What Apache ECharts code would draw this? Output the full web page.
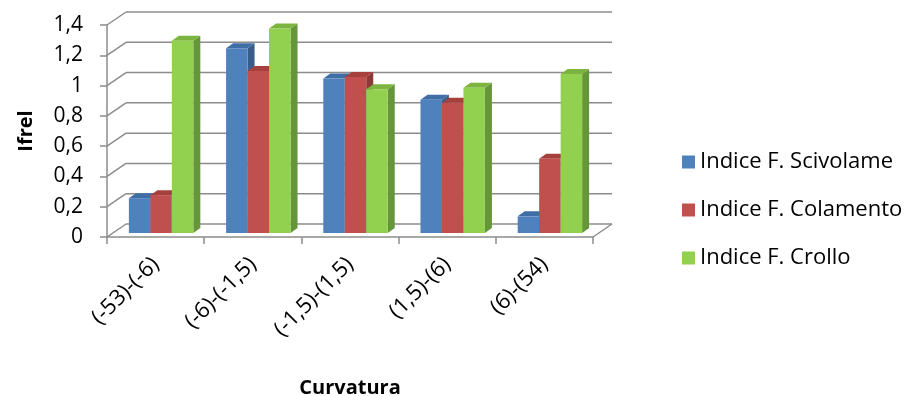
<!DOCTYPE html>
<html>
<head>
<meta charset="utf-8">
<script src="https://cdn.jsdelivr.net/npm/echarts@6/dist/echarts.min.js"></script>
<style>
  html, body { margin: 0; padding: 0; background: #ffffff; }
  #chart { width: 916px; height: 396px; }
</style>
</head>
<body>
<div id="chart"></div>
<script>
// Curvature classes on the horizontal axis
const categories = ['(-53)-(-6)', '(-6)-(-1,5)', '(-1,5)-(1,5)', '(1,5)-(6)', '(6)-(54)'];

// Relative frequency index per curvature class
const scivolamento = [0.23, 1.22, 1.02, 0.88, 0.11];
const colamento    = [0.25, 1.07, 1.03, 0.86, 0.49];
const crollo       = [1.27, 1.35, 0.95, 0.96, 1.05];

const seriesNames = ['Indice F. Scivolame', 'Indice F. Colamento', 'Indice F. Crollo'];

// Value axis ticks
const yTicks = [0, 0.2, 0.4, 0.6, 0.8, 1.0, 1.2, 1.4];

const FONT = '"Open Sans", "Noto Sans", sans-serif';
const GRID_COLOR = '#8c8c8c';

// Pseudo-3D geometry (pixels)
const WALL_DX = 19, WALL_DY = -13;     // depth of the back wall
const BAR_SHIFT_X = 5.5, BAR_SHIFT_Y = -4; // bars sit a little behind the front plane
const BAR_DX = 7, BAR_DY = -5;         // thickness of each column
const BAR_FRACTION = 0.221;            // bar width relative to category width

const palettes = [
  { front: '#4F81BD', top: '#3F6DA5', side: '#385D8A' },
  { front: '#C0504D', top: '#A6403D', side: '#8C3836' },
  { front: '#92D050', top: '#7DB43F', side: '#66963A' }
];

// Back wall gridlines, left-wall diagonals and the floor's right edge
function renderWall(params, api) {
  const cs = params.coordSys;
  const v = api.value(1);
  const y = api.coord([0, v])[1];
  const left = cs.x, right = cs.x + cs.width;
  const style = { stroke: GRID_COLOR, lineWidth: 1.5 };
  const children = [
    { type: 'line', shape: { x1: left, y1: y, x2: left + WALL_DX, y2: y + WALL_DY }, style },
    { type: 'line', shape: { x1: left + WALL_DX, y1: y + WALL_DY, x2: right + WALL_DX, y2: y + WALL_DY }, style }
  ];
  if (v === 0) {
    children.push({ type: 'line', shape: { x1: right, y1: y, x2: right + WALL_DX, y2: y + WALL_DY }, style });
  }
  return { type: 'group', children };
}

function makeBarRenderer(seriesIdx) {
  const pal = palettes[seriesIdx];
  return function (params, api) {
    const idx = api.value(0);
    const val = api.value(1);
    const base = api.coord([idx, 0]);
    const topPt = api.coord([idx, val]);
    const catW = api.size([1, 0])[0];
    const bw = catW * BAR_FRACTION;
    const l = base[0] - 1.5 * bw + seriesIdx * bw + BAR_SHIFT_X;
    const r = l + bw;
    const b = base[1] + BAR_SHIFT_Y;
    const t = topPt[1] + BAR_SHIFT_Y;
    return {
      type: 'group',
      children: [
        { type: 'polygon', shape: { points: [[r, t], [r + BAR_DX, t + BAR_DY], [r + BAR_DX, b + BAR_DY], [r, b]] },
          style: { fill: pal.side } },
        { type: 'polygon', shape: { points: [[l, t], [l + BAR_DX, t + BAR_DY], [r + BAR_DX, t + BAR_DY], [r, t]] },
          style: { fill: pal.top } },
        { type: 'rect', shape: { x: l, y: t, width: bw, height: b - t }, style: { fill: pal.front } }
      ]
    };
  };
}

const chart = echarts.init(document.getElementById('chart'), null, { renderer: 'canvas' });

const barData = [scivolamento, colamento, crollo];

chart.setOption({
  backgroundColor: '#ffffff',
  animation: false,
  grid: { left: 107, top: 25, right: 323, bottom: 159, containLabel: false, outerBoundsMode: 'none' },
  legend: {
    orient: 'vertical',
    left: 677,
    top: 146,
    icon: 'rect',
    itemWidth: 13,
    itemHeight: 13,
    itemGap: 26,
    data: seriesNames,
    textStyle: { fontFamily: FONT, fontSize: 22, color: '#000', lineHeight: 22 }
  },
  xAxis: {
    type: 'category',
    data: categories,
    boundaryGap: true,
    name: 'Curvatura',
    nameLocation: 'middle',
    nameGap: 141,
    nameTextStyle: { fontFamily: FONT, fontSize: 20, fontWeight: 'bold', color: '#000' },
    axisLine: { show: true, lineStyle: { color: GRID_COLOR, width: 1.5 } },
    axisTick: { show: true, length: 7, lineStyle: { color: GRID_COLOR, width: 1.5 } },
    axisLabel: { rotate: 45, margin: 24, fontFamily: FONT, fontSize: 22, color: '#000', interval: 0 }
  },
  yAxis: {
    type: 'value',
    min: 0,
    max: 1.4,
    interval: 0.2,
    name: 'Ifrel',
    nameLocation: 'middle',
    nameGap: 71,
    nameTextStyle: { fontFamily: FONT, fontSize: 20, fontWeight: 'bold', color: '#000' },
    axisLine: { show: true, lineStyle: { color: GRID_COLOR, width: 1.5 } },
    axisTick: { show: true, length: 7, lineStyle: { color: GRID_COLOR, width: 1.5 } },
    splitLine: { show: false },
    axisLabel: {
      margin: 24,
      fontFamily: FONT,
      fontSize: 21,
      color: '#000',
      formatter: v => String(Math.round(v * 10) / 10).replace('.', ',')
    }
  },
  series: [
    {
      type: 'custom',
      name: 'wall',
      silent: true,
      z: 1,
      renderItem: renderWall,
      data: yTicks.map(v => [0, v]),
      encode: { x: 0, y: 1 }
    }
  ].concat(barData.map((vals, s) => ({
    type: 'custom',
    name: seriesNames[s],
    z: 2 + s,
    itemStyle: { color: palettes[s].front },
    renderItem: makeBarRenderer(s),
    data: vals.map((v, i) => [i, v]),
    encode: { x: 0, y: 1 }
  })))
});
</script>
</body>
</html>
